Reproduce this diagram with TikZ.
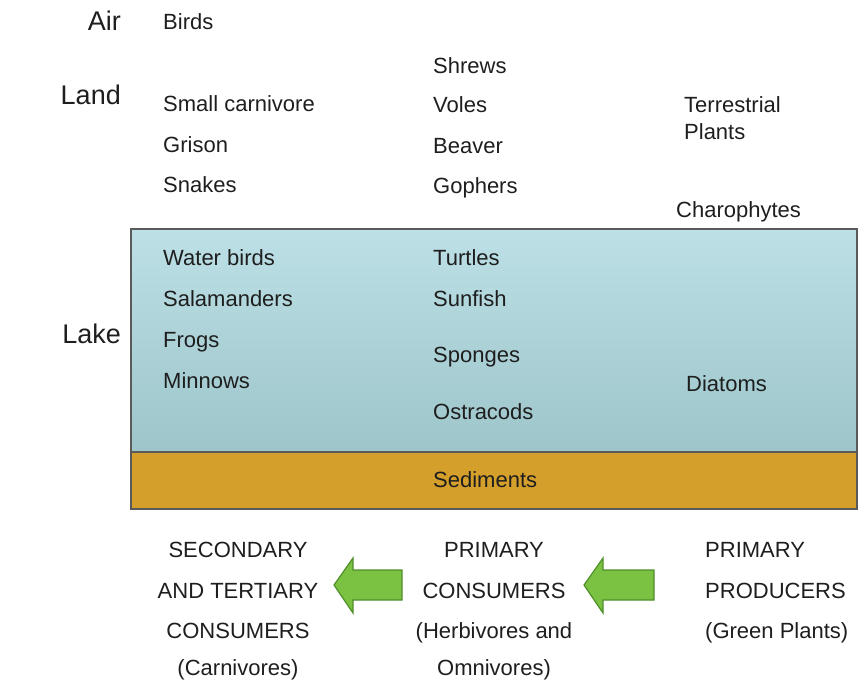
\documentclass[tikz,border=0pt]{standalone}
\usepackage{fontspec}
\setmainfont{Liberation Sans}
\definecolor{lakeTop}{HTML}{BCE0E6}
\definecolor{lakeBot}{HTML}{9DC5CA}
\definecolor{sed}{HTML}{D4A02B}
\definecolor{boxEdge}{HTML}{5A5A5A}
\definecolor{arrFill}{HTML}{7CC242}
\definecolor{arrEdge}{HTML}{4F8F2A}
\definecolor{ink}{HTML}{1E1E1E}
\tikzset{
  item/.style={anchor=west, inner sep=0pt, text=ink, font=\fontsize{22}{26}\selectfont, text height=0.716em, text depth=0pt, yshift=-4pt},
  region/.style={anchor=east, inner sep=0pt, text=ink, font=\fontsize{27}{31}\selectfont, text height=0.716em, text depth=0pt, yshift=-5pt},
  cline/.style={anchor=center, inner sep=0pt, text=ink, font=\fontsize{22}{26}\selectfont, text height=0.716em, text depth=0pt, yshift=-4pt},
  lline/.style={item},
  blockarrow/.style={fill=arrFill, draw=arrEdge, line width=1.2pt, line join=miter}
}
\begin{document}
\begin{tikzpicture}[x=1pt,y=-1pt]
\useasboundingbox (0,0) rectangle (859,686);
% lake box
\shade[top color=lakeTop, bottom color=lakeBot] (131,229) rectangle (857,452);
\fill[sed] (131,452) rectangle (857,509);
\draw[boxEdge, line width=1.3pt] (131,229) rectangle (857,509);
\draw[boxEdge, line width=1.3pt] (131,452) -- (857,452);

% region labels
\node[region] (air) at (121,22) {Air};
\node[region] (land) at (121,96) {Land};
\node[region] (lake) at (121,335) {Lake};

% column 1
\node[item] (birds) at (163,22) {Birds};
\node[item] (smallc) at (163,104) {Small carnivore};
\node[item] (grison) at (163,145) {Grison};
\node[item] (snakes) at (163,185) {Snakes};
\node[item] (wbirds) at (163,258) {Water birds};
\node[item] (salam) at (163,299) {Salamanders};
\node[item] (frogs) at (163,340) {Frogs};
\node[item] (minnows) at (163,381) {Minnows};

% column 2
\node[item] (shrews) at (433,66) {Shrews};
\node[item] (voles) at (433,105) {Voles};
\node[item] (beaver) at (433,146) {Beaver};
\node[item] (gophers) at (433,186) {Gophers};
\node[item] (turtles) at (433,258) {Turtles};
\node[item] (sunfish) at (433,299) {Sunfish};
\node[item] (sponges) at (433,355) {Sponges};
\node[item] (ostra) at (433,412) {Ostracods};
\node[item] (sedim) at (433,480) {Sediments};

% column 3
\node[item] (terr1) at (684,105) {Terrestrial};
\node[item] (terr2) at (684,132) {Plants};
\node[item] (charo) at (676,210) {Charophytes};
\node[item] (diatoms) at (686,384) {Diatoms};

% bottom labels
\node[cline] (s1) at (238,550) {SECONDARY};
\node[cline] (s2) at (238,591) {AND TERTIARY};
\node[cline] (s3) at (238,631) {CONSUMERS};
\node[cline] (s4) at (238,668) {(Carnivores)};
\node[cline] (p1) at (494,550) {PRIMARY};
\node[cline] (p2) at (494,591) {CONSUMERS};
\node[cline] (p3) at (494,631) {(Herbivores and};
\node[cline] (p4) at (494,668) {Omnivores)};
\node[lline] (q1) at (705,550) {PRIMARY};
\node[lline] (q2) at (705,591) {PRODUCERS};
\node[lline] (q3) at (705,631) {(Green Plants)};

% block arrows
\draw[blockarrow] (334,585) -- (353,558) -- (353,570) -- (402,570) -- (402,600) -- (353,600) -- (353,613) -- cycle;
\draw[blockarrow] (584,585) -- (603,558) -- (603,570) -- (654,570) -- (654,600) -- (603,600) -- (603,613) -- cycle;
\end{tikzpicture}
\end{document}
